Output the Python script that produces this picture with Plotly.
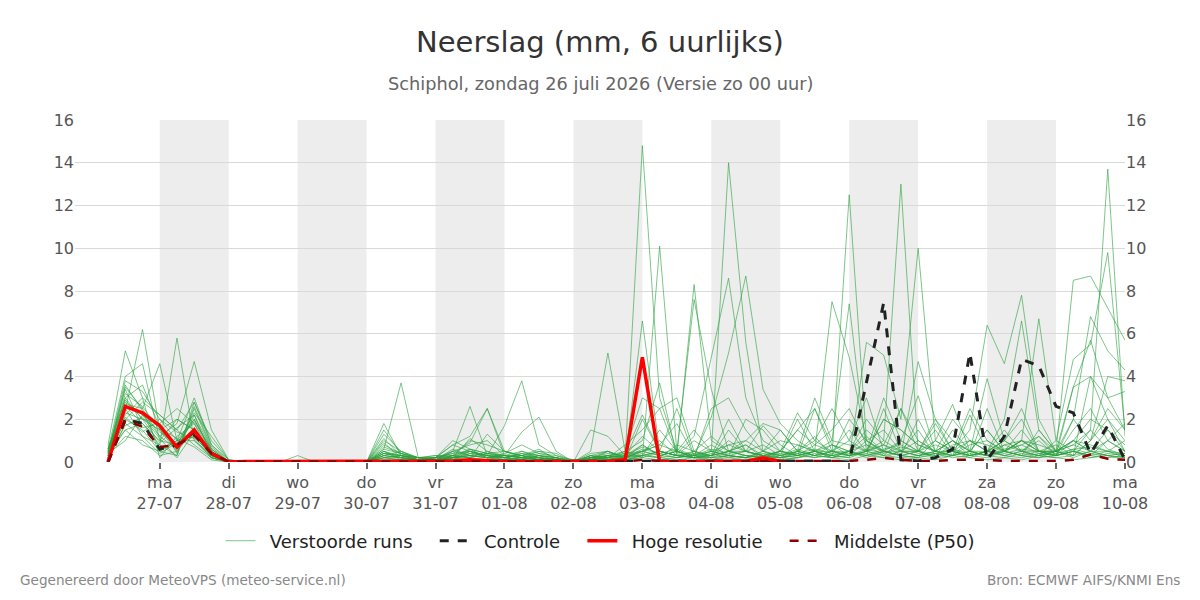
import pandas as pd
import plotly.graph_objects as go

# ---------------- data ----------------
tijden = pd.date_range("2026-07-26 06:00", periods=60, freq="6h")

controle = [0, 2.0, 1.8, 0.6, 0.8, 1.4, 0.4, 0.0,
            0.02, 0.02, 0.02, 0.05, 0.02, 0.02, 0.02, 0.02, 0.05, 0.05, 0.02,
            0.02, 0.05, 0.05, 0.02, 0.02, 0.05, 0.02, 0.02, 0.02, 0.02, 0.05,
            0.02, 0.02, 0.02, 0.02, 0.05, 0.05, 0.02, 0.02, 0.02, 0.02, 0.05,
            0.05, 0.05, 0.0, 3.8, 7.45, 0.1, 0.05, 0.2, 0.6, 5.1, 0.1, 1.2,
            4.8, 4.5, 2.6, 2.3, 0.4, 1.7, 0.1]

hoge_resolutie = [0, 2.6, 2.3, 1.7, 0.7, 1.5, 0.4, 0.0,
                  0.02, 0.02, 0.02, 0.02, 0.02, 0.02, 0.02, 0.02, 0.02, 0.02, 0.02,
                  0.02, 0.05, 0.1, 0.05, 0.02, 0.02, 0.02, 0.02, 0.02, 0.02, 0.02,
                  0.1, 4.9, 0.0, 0.02, 0.02, 0.02, 0.02, 0.02, 0.2, 0.02]

middelste = [0, 1.95, 1.65, 0.7, 0.8, 1.25, 0.4, 0.02,
             0.02, 0.02, 0.02, 0.02, 0.02, 0.02, 0.02, 0.02, 0.05, 0.05, 0.02,
             0.02, 0.05, 0.05, 0.05, 0.02, 0.05, 0.05, 0.02, 0.02, 0.05, 0.05,
             0.02, 0.1, 0.05, 0.05, 0.05, 0.05, 0.05, 0.05, 0.05, 0.05, 0.05,
             0.05, 0.05, 0.05, 0.1, 0.2, 0.1, 0.05, 0.05, 0.1, 0.1, 0.1, 0.05,
             0.05, 0.05, 0.05, 0.1, 0.35, 0.15, 0.1]

verstoorde_runs = [
    [0.3, 2.4, 6.2, 1.5, 0.8, 2.0, 0.5, 0, 0, 0, 0, 0, 0, 0, 0, 0, 1.8, 0.3, 0.2, 0.1, 0.3, 0.6, 0.2, 0.3, 0.2, 0.1, 0, 0, 0.1, 0.3, 0.2, 14.8, 3.0, 0.5, 0.2, 0.3, 1.0, 0.5, 0.2, 0.1, 0.5, 1.2, 0.3, 2.0, 1.0, 0.4, 2.5, 1.0, 0.5, 0.3, 1.0, 0.5, 1.0, 2.0, 0.5, 0.3, 1.5, 2.5, 1.0, 0.5],
    [0.8, 5.2, 3.0, 2.2, 1.5, 2.8, 1.0, 0.1, 0, 0, 0, 0.3, 0, 0, 0, 0, 1.5, 0.4, 0.2, 0.1, 0.5, 2.6, 0.3, 0.2, 0.4, 0.2, 0.1, 0, 0.2, 0.5, 0.1, 6.6, 0.5, 0.3, 1.0, 0.5, 0.3, 2.0, 1.5, 0.5, 2.3, 1.0, 0.5, 0.5, 1.5, 0.8, 0.3, 4.7, 2.0, 1.0, 0.5, 1.5, 0.5, 0.8, 1.2, 0.5, 0.3, 1.0, 2.5, 1.5],
    [0.2, 3.5, 2.5, 4.6, 1.0, 1.2, 0.3, 0, 0, 0, 0, 0, 0, 0, 0, 0, 1.3, 0.5, 0.1, 0.2, 0.8, 1.2, 2.5, 0.5, 0.3, 0.1, 0, 0, 0.5, 5.1, 0.5, 0.2, 10.1, 0.5, 0.2, 0.1, 0.3, 0.2, 0.5, 1.0, 0.8, 0.5, 0.2, 0.3, 0.5, 1.0, 13.0, 0.5, 0.2, 0.3, 0.8, 1.0, 0.5, 0.3, 0.2, 0.5, 0.8, 1.5, 0.6, 0.3],
    [0.5, 1.5, 1.8, 0.8, 5.8, 1.0, 0.2, 0, 0, 0, 0, 0, 0, 0, 0, 0, 1.1, 0.3, 0.1, 0.1, 0.2, 0.5, 0.3, 1.7, 3.8, 0.8, 0.3, 0, 0.3, 0.2, 0.1, 2.0, 0.5, 0.3, 8.3, 1.0, 0.5, 0.3, 0.2, 0.1, 0.2, 0.4, 0.3, 12.5, 1.0, 0.5, 0.3, 0.2, 1.0, 2.7, 0.5, 0.3, 0.5, 1.0, 0.8, 0.5, 8.5, 8.7, 7.2, 5.7],
    [0.4, 2.8, 2.2, 1.2, 1.8, 4.7, 1.5, 0.1, 0, 0, 0, 0, 0, 0, 0, 0, 0.9, 0.2, 0.1, 0.2, 1.0, 0.6, 0.4, 0.3, 1.4, 2.1, 0.5, 0, 1.5, 1.2, 0.3, 0.8, 0.3, 0.5, 7.6, 3.4, 0.5, 1.0, 0.5, 0.3, 0.5, 3.0, 1.0, 7.4, 0.5, 0.3, 1.0, 3.1, 0.5, 0.5, 1.5, 6.4, 4.6, 7.8, 2.0, 0.5, 1.0, 2.0, 1.5, 0.8],
    [0.6, 4.0, 4.6, 1.0, 2.0, 1.5, 0.4, 0, 0, 0, 0, 0, 0, 0, 0, 0, 0.6, 3.7, 0.2, 0.1, 0.3, 0.2, 1.3, 0.5, 0.3, 0.6, 0.1, 0, 0.2, 0.3, 0.5, 1.0, 3.7, 0.3, 0.2, 0.5, 14.0, 5.6, 0.5, 0.2, 0.5, 0.3, 0.8, 0.5, 0.3, 2.5, 0.5, 0.3, 0.5, 1.0, 0.3, 0.5, 0.8, 1.0, 0.5, 0.3, 0.5, 1.5, 13.7, 1.2],
    [0.3, 3.2, 2.6, 1.5, 0.5, 2.2, 0.6, 0, 0, 0, 0, 0, 0, 0, 0, 0, 0.4, 0.3, 0.1, 0.2, 0.4, 0.9, 2.5, 0.3, 0.2, 0.1, 0.2, 0, 0.1, 0.2, 0.8, 1.5, 2.5, 0.4, 1.2, 4.9, 8.6, 3.0, 1.0, 0.5, 0.3, 0.5, 7.5, 4.9, 1.0, 0.5, 0.3, 0.5, 0.2, 1.5, 0.5, 3.9, 1.0, 0.5, 0.3, 1.0, 4.8, 5.5, 9.8, 1.5],
    [0.2, 2.0, 1.5, 0.5, 0.3, 2.8, 0.8, 0, 0, 0, 0, 0, 0, 0, 0, 0, 0.8, 0.4, 0.2, 0.3, 0.2, 0.4, 0.3, 0.2, 0.3, 0.2, 0.1, 0, 0.3, 0.2, 0.4, 2.2, 0.5, 2.5, 0.3, 2.1, 5.1, 8.7, 3.4, 1.8, 1.0, 0.5, 0.3, 0.2, 5.6, 5.0, 2.0, 10.0, 1.0, 0.5, 0.3, 0.5, 1.0, 0.5, 1.2, 0.3, 2.0, 6.8, 5.2, 4.3],
    [0.5, 2.2, 3.0, 0.2, 1.2, 1.8, 0.2, 0, 0, 0, 0, 0, 0, 0, 0, 0, 0.2, 0.3, 0.1, 0.1, 0.6, 0.3, 0.2, 0.4, 0.8, 0.4, 0.3, 0.1, 0.2, 0.1, 0.2, 0.3, 0.2, 0.8, 0.5, 1.2, 0.5, 0.8, 0.3, 0.5, 1.5, 2.5, 0.5, 1.0, 0.5, 2.0, 1.5, 0.8, 0.5, 0.3, 2.2, 0.5, 2.0, 6.6, 1.5, 0.5, 1.0, 0.5, 1.0, 0.5],
    [0.4, 3.8, 3.3, 2.0, 1.0, 1.0, 0.3, 0, 0, 0, 0, 0, 0, 0, 0, 0, 0.5, 0.2, 0.1, 0.1, 0.1, 0.5, 0.2, 0.2, 0.4, 0.3, 0.2, 0, 0.4, 0.5, 0.2, 0.5, 1.0, 0.3, 0.4, 0.3, 0.8, 0.5, 1.7, 0.8, 0.3, 2.5, 0.8, 0.5, 1.2, 0.5, 0.3, 0.5, 1.8, 0.5, 0.3, 2.5, 0.5, 1.0, 6.7, 1.0, 0.5, 0.3, 1.0, 1.8],
    [0.3, 1.2, 1.0, 0.3, 0.5, 1.5, 0.2, 0, 0, 0, 0, 0, 0, 0, 0, 0, 0.3, 0.5, 0.2, 0.2, 0.5, 0.3, 0.4, 0.5, 0.2, 0.3, 0.2, 0.1, 0.1, 0.2, 0.3, 0.5, 0.3, 0.2, 0.5, 0.3, 2.0, 0.5, 0.3, 0.2, 0.3, 0.5, 1.0, 0.8, 0.5, 3.0, 1.0, 0.5, 0.3, 0.8, 1.0, 0.5, 0.3, 0.5, 0.3, 0.5, 0.2, 0.5, 0.3, 0.2],
    [0.6, 3.0, 2.0, 1.8, 2.5, 1.8, 0.5, 0, 0, 0, 0, 0, 0, 0, 0, 0, 0.7, 0.4, 0.1, 0.1, 0.2, 1.1, 0.5, 0.2, 0.1, 0.3, 0.1, 0, 0.1, 0.5, 0.2, 0.8, 0.3, 0.5, 1.5, 0.5, 0.3, 0.2, 0.5, 1.5, 0.5, 1.0, 2.5, 1.0, 3.0, 0.5, 0.3, 2.0, 0.5, 1.0, 0.5, 0.3, 0.5, 1.0, 0.5, 0.3, 3.5, 4.0, 3.0, 3.3],
    [0.1, 1.8, 1.2, 0.8, 0.3, 2.5, 0.6, 0, 0, 0, 0, 0, 0, 0, 0, 0, 1.0, 0.5, 0.2, 0.1, 0.5, 0.8, 1.0, 0.3, 0.5, 0.2, 0.1, 0, 0.2, 0.3, 0.1, 0.3, 1.5, 0.5, 0.2, 2.5, 3.0, 1.5, 0.5, 0.3, 2.0, 0.5, 0.3, 0.5, 2.0, 1.0, 0.5, 1.5, 0.3, 0.5, 0.2, 0.5, 1.0, 2.5, 0.5, 0.5, 0.3, 1.0, 2.0, 1.0],
    [0.5, 2.6, 1.8, 1.0, 0.8, 1.2, 0.3, 0, 0, 0, 0, 0, 0, 0, 0, 0, 0.3, 0.2, 0.1, 0.2, 0.8, 0.5, 0.3, 0.1, 0.2, 0.5, 0.2, 0, 0.3, 0.1, 0.3, 1.2, 0.5, 0.3, 0.2, 0.3, 0.5, 0.8, 0.2, 0.5, 0.3, 0.8, 1.5, 2.5, 0.8, 0.5, 1.0, 0.5, 1.0, 0.5, 2.5, 1.0, 0.5, 0.3, 1.5, 0.5, 1.0, 0.5, 0.5, 0.3],
    [0.2, 2.0, 2.8, 2.2, 1.5, 0.8, 0.2, 0, 0, 0, 0, 0, 0, 0, 0, 0, 0.4, 0.2, 0.1, 0.1, 0.2, 0.3, 0.2, 0.3, 0.2, 0.1, 0.2, 0, 0.1, 0.3, 0.2, 0.5, 0.8, 1.8, 0.3, 0.2, 1.5, 0.5, 0.3, 0.2, 0.8, 0.5, 0.5, 1.5, 0.5, 0.8, 2.5, 0.5, 1.5, 0.3, 0.5, 0.3, 0.8, 0.5, 0.5, 0.5, 3.5, 5.7, 3.0, 1.5],
    [0.4, 3.6, 2.4, 0.6, 1.0, 3.0, 0.8, 0.1, 0, 0, 0, 0, 0, 0, 0, 0, 0.5, 0.3, 0.2, 0.3, 0.3, 0.2, 0.5, 0.3, 0.3, 0.5, 0.4, 0, 0.2, 0.4, 0.3, 0.3, 0.5, 0.3, 0.3, 0.8, 0.3, 0.5, 0.8, 0.3, 0.5, 0.3, 0.5, 0.3, 1.0, 1.5, 0.5, 1.0, 0.5, 2.0, 1.0, 0.5, 1.5, 0.5, 0.3, 0.5, 0.8, 0.5, 1.5, 0.5],
    [0.3, 1.5, 0.8, 0.5, 1.0, 2.0, 0.5, 0, 0, 0, 0, 0, 0, 0, 0, 0, 0.2, 0.1, 0.1, 0.1, 0.3, 1.0, 0.8, 0.5, 0.3, 0.2, 0.1, 0, 0.1, 0.2, 0.5, 3.0, 2.5, 3.0, 0.5, 0.3, 0.5, 0.3, 0.2, 0.5, 1.5, 0.8, 0.5, 0.3, 0.5, 2.0, 1.5, 0.8, 0.5, 0.3, 0.5, 1.5, 0.5, 0.3, 0.5, 0.8, 0.3, 4.0, 2.0, 0.5],
    [0.7, 2.3, 2.0, 1.5, 2.0, 1.5, 0.4, 0, 0, 0, 0, 0, 0, 0, 0, 0, 0.3, 0.2, 0.1, 0.1, 0.2, 0.3, 0.2, 0.2, 0.1, 0.2, 0.1, 0, 0.1, 0.2, 0.1, 0.2, 0.5, 0.3, 0.2, 0.2, 0.3, 0.2, 0.3, 0.2, 0.3, 0.5, 0.2, 0.5, 0.3, 0.5, 0.5, 0.3, 0.5, 1.0, 0.5, 0.5, 0.3, 0.5, 1.0, 0.3, 0.5, 0.3, 0.5, 0.2],
    [0.3, 2.7, 2.5, 1.2, 0.6, 1.6, 0.3, 0, 0, 0, 0, 0, 0, 0, 0, 0, 0.6, 0.4, 0.2, 0.2, 0.3, 0.5, 0.2, 0.1, 0.5, 0.3, 0.2, 0, 0.3, 0.5, 0.2, 0.5, 0.3, 0.5, 0.3, 0.5, 0.8, 1.0, 1.8, 1.5, 0.5, 0.3, 0.2, 0.5, 0.8, 0.3, 0.5, 0.5, 2.0, 0.5, 0.3, 0.5, 0.5, 1.0, 0.5, 0.5, 2.0, 1.0, 4.0, 3.8],
    [0.5, 3.4, 1.6, 1.8, 0.4, 2.6, 0.7, 0, 0, 0, 0, 0, 0, 0, 0, 0, 0.4, 0.3, 0.2, 0.2, 0.4, 0.5, 0.3, 0.3, 0.2, 0.4, 0.2, 0, 0.2, 0.3, 0.4, 0.5, 0.8, 0.5, 0.3, 0.3, 0.5, 0.5, 0.3, 0.5, 0.3, 0.5, 0.8, 0.3, 0.5, 0.8, 0.5, 0.5, 0.8, 0.5, 1.0, 0.8, 0.5, 1.5, 0.5, 0.3, 1.0, 0.8, 0.5, 1.0],
    [0.6, 2.1, 1.4, 2.0, 1.4, 1.1, 0.2, 0, 0, 0, 0, 0, 0, 0, 0, 0, 0.2, 0.1, 0, 0.1, 0.2, 0.2, 0.1, 0.1, 0.1, 0.2, 0.1, 0, 0.1, 0.1, 0.1, 0.3, 0.2, 0.1, 0.2, 0.2, 0.3, 0.2, 0.1, 0.3, 0.2, 0.5, 0.3, 0.2, 0.5, 0.3, 0.2, 0.3, 0.2, 0.5, 0.3, 0.2, 0.5, 0.3, 0.2, 0.3, 0.5, 0.3, 0.2, 0.3],
    [0.4, 1.0, 2.2, 1.4, 0.8, 2.3, 1.2, 0.1, 0, 0, 0, 0, 0, 0, 0, 0, 0.5, 0.1, 0.1, 0.1, 0.1, 0.4, 0.3, 0.2, 0.3, 0.1, 0.1, 0, 0.2, 0.1, 0.2, 0.4, 0.2, 0.3, 0.5, 0.2, 0.5, 0.3, 0.2, 0.2, 0.4, 0.2, 0.3, 0.5, 0.2, 0.5, 0.3, 0.2, 0.4, 0.3, 0.5, 0.3, 0.2, 0.4, 0.3, 0.2, 0.3, 0.5, 0.3, 0.2],
    [0.2, 3.0, 3.6, 1.6, 1.1, 0.7, 0.1, 0, 0, 0, 0, 0, 0, 0, 0, 0, 0.1, 0.1, 0, 0, 0.2, 0.1, 0.1, 0.1, 0.2, 0.1, 0, 0, 0.1, 0.2, 0.1, 0.2, 0.1, 0.2, 0.3, 0.1, 0.2, 0.1, 0.2, 0.1, 0.2, 0.3, 0.2, 0.1, 0.3, 0.2, 0.1, 0.2, 0.1, 0.3, 0.2, 0.1, 0.2, 0.1, 0.3, 0.2, 0.1, 0.2, 0.3, 0.1],
    [0.5, 2.5, 1.2, 0.4, 0.9, 1.9, 0.6, 0, 0, 0, 0, 0, 0, 0, 0, 0, 0.3, 0.2, 0.1, 0.1, 0.3, 0.2, 0.4, 0.2, 0.1, 0.3, 0.1, 0, 0.1, 0.3, 0.2, 0.6, 0.4, 0.2, 0.3, 0.5, 0.3, 0.2, 0.4, 0.3, 0.6, 0.3, 0.5, 0.4, 0.3, 0.6, 0.8, 0.4, 0.3, 0.6, 0.4, 0.3, 0.6, 0.8, 0.4, 0.3, 0.6, 0.4, 0.3, 0.4],
    [0.3, 1.7, 2.1, 1.1, 0.2, 1.4, 0.4, 0, 0, 0, 0, 0, 0, 0, 0, 0, 0.2, 0.2, 0.1, 0.1, 0.2, 0.3, 0.2, 0.1, 0.2, 0.1, 0.1, 0, 0.2, 0.1, 0.2, 0.3, 0.5, 0.3, 0.2, 0.4, 0.2, 0.3, 0.2, 0.4, 0.3, 0.2, 0.5, 0.3, 0.4, 0.2, 0.5, 0.3, 0.4, 0.2, 0.3, 0.5, 0.3, 0.2, 0.4, 0.3, 0.5, 0.2, 0.4, 0.3],
    [0.6, 2.9, 2.0, 0.9, 1.6, 2.2, 0.3, 0, 0, 0, 0, 0, 0, 0, 0, 0, 0.4, 0.3, 0.1, 0.2, 0.2, 0.6, 0.4, 0.3, 0.2, 0.2, 0.1, 0, 0.2, 0.2, 0.3, 0.7, 0.4, 0.6, 0.3, 0.6, 0.4, 0.5, 0.3, 0.5, 0.4, 0.6, 0.4, 0.3, 0.6, 0.4, 0.7, 0.5, 0.4, 0.6, 0.3, 0.5, 0.4, 0.6, 0.5, 0.4, 0.6, 0.7, 0.5, 0.4],
]

dag_tickwaarden = pd.date_range("2026-07-27", periods=15, freq="D")
dag_ticklabels = ["ma<br>27-07", "di<br>28-07", "wo<br>29-07", "do<br>30-07", "vr<br>31-07",
                  "za<br>01-08", "zo<br>02-08", "ma<br>03-08", "di<br>04-08", "wo<br>05-08",
                  "do<br>06-08", "vr<br>07-08", "za<br>08-08", "zo<br>09-08", "ma<br>10-08"]
grijze_dagen = ["2026-07-27", "2026-07-29", "2026-07-31", "2026-08-02",
                "2026-08-04", "2026-08-06", "2026-08-08"]

FONT = '"DejaVu Sans", Verdana, sans-serif'
PRE = "\u00a0\u2009"
POST = "\u00a0\u00a0\u00a0"

fig = go.Figure()

for k, run in enumerate(verstoorde_runs):
    fig.add_trace(go.Scatter(
        x=tijden, y=run, mode="lines",
        line=dict(color="rgba(40,160,60,0.6)", width=1),
        name=PRE + "Verstoorde runs" + POST, legendgroup="runs", showlegend=(k == 0),
        hoverinfo="skip"))

fig.add_trace(go.Scatter(x=tijden, y=controle, mode="lines", name=PRE + "Controle" + POST,
                         line=dict(color="#222222", width=3, dash="dash")))
fig.add_trace(go.Scatter(x=tijden[:len(hoge_resolutie)], y=hoge_resolutie, mode="lines",
                         name=PRE + "Hoge resolutie" + POST, line=dict(color="#ff0000", width=3.5)))
fig.add_trace(go.Scatter(x=tijden, y=middelste, mode="lines", name=PRE + "Middelste (P50)",
                         line=dict(color="#8b0000", width=2.5, dash="dash")))
# invisible trace for the right-hand axis
fig.add_trace(go.Scatter(x=tijden, y=controle, yaxis="y2", mode="lines", opacity=0,
                         showlegend=False, hoverinfo="skip"))

for d in grijze_dagen:
    start = pd.Timestamp(d)
    fig.add_shape(type="rect", xref="x", yref="paper", x0=start, x1=start + pd.Timedelta(days=1),
                  y0=0, y1=1, fillcolor="rgb(237,237,237)", line_width=0, layer="below")

fig.update_layout(
    width=1200, height=600,
    paper_bgcolor="white", plot_bgcolor="white",
    margin=dict(l=75, r=75, t=120, b=138),
    font=dict(family=FONT, color="#444"),
    showlegend=True,
    legend=dict(orientation="h", x=0.5, xanchor="center", y=-0.231, yanchor="middle",
                font=dict(size=18, color="#222"), itemwidth=30),
    xaxis=dict(type="date", range=["2026-07-25 18:30", "2026-08-10 00:00"],
               tickvals=dag_tickwaarden, ticktext=dag_ticklabels, showgrid=False,
               ticks="outside", ticklen=6, tickwidth=2, tickcolor="#666",
               tickfont=dict(size=16, color="#555"), zeroline=False, showline=False),
    yaxis=dict(range=[0, 16], tickvals=list(range(0, 17, 2)), showgrid=True,
               gridcolor="#d9d9d9", gridwidth=1, zeroline=False,
               tickfont=dict(size=16, color="#555")),
    yaxis2=dict(range=[0, 16], tickvals=list(range(0, 17, 2)), overlaying="y", side="right",
                showgrid=False, zeroline=False, tickfont=dict(size=16, color="#555")),
    annotations=[
        dict(text="Neerslag (mm, 6 uurlijks)", xref="paper", yref="paper", x=0.5, y=1.228,
             xanchor="center", yanchor="middle", showarrow=False,
             font=dict(size=29, color="#333")),
        dict(text="Schiphol, zondag 26 juli 2026 (Versie zo 00 uur)", xref="paper", yref="paper",
             x=0.5, y=1.105, xanchor="center", yanchor="middle", showarrow=False,
             font=dict(size=17.75, color="#666")),
        dict(text="Gegenereerd door MeteoVPS (meteo-service.nl)", xref="paper", yref="paper",
             x=-0.0543, y=-0.345, xanchor="left", yanchor="middle", showarrow=False,
             font=dict(size=13.6, color="#888")),
        dict(text="Bron: ECMWF AIFS/KNMI Ens", xref="paper", yref="paper",
             x=1.0543, y=-0.345, xanchor="right", yanchor="middle", showarrow=False,
             font=dict(size=13.6, color="#888")),
    ],
)

fig.write_html("out.html")
